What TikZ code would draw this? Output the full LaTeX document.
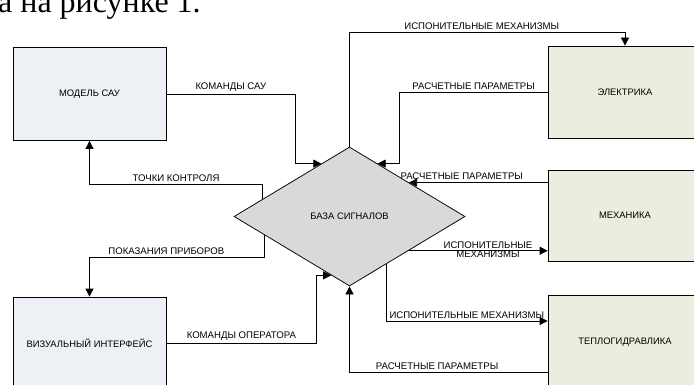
\documentclass[tikz,border=0pt]{standalone}
\usepackage{fontspec}
\setmainfont{Liberation Sans}
\newfontfamily\serifru{Liberation Serif}
\usetikzlibrary{shapes.geometric,arrows.meta,calc}

\definecolor{modfill}{HTML}{EDF0F5}
\definecolor{calcfill}{HTML}{EBEEDE}
\definecolor{basefill}{HTML}{D9D9D9}

\tikzset{
  box/.style={draw, line width=0.75pt, minimum width=153pt, minimum height=93pt,
    font=\fontsize{9.4}{11}\selectfont},
  arr/.style={line width=0.75pt, -{Triangle[length=8pt,width=8pt]}},
  lbl/.style={font=\fontsize{9.6}{11}\selectfont, inner sep=2.2pt}
}

\begin{document}
\begin{tikzpicture}[x=1pt,y=-1pt]
  \useasboundingbox (0,0) rectangle (694,385);
  \clip (0,0) rectangle (694,385);

  \node[anchor=base west, inner sep=0, font=\serifru\fontsize{32}{34}\selectfont]
    (txt) at (-2,13) {а на рисунке 1.};

  \node[box, fill=modfill] (model) at (89.5,94) {МОДЕЛЬ САУ};
  \node[box, fill=modfill, minimum height=92pt] (vis) at (89.5,343) {ВИЗУАЛЬНЫЙ ИНТЕРФЕЙС};
  \node[box, fill=calcfill, minimum width=154pt, minimum height=92pt] (elek) at (625,92) {ЭЛЕКТРИКА};
  \node[box, fill=calcfill, minimum width=154pt, minimum height=91pt] (mech) at (625,215.5) {МЕХАНИКА};
  \node[box, fill=calcfill, minimum width=154pt, minimum height=94pt] (teplo) at (625,342) {ТЕПЛОГИДРАВЛИКА};
  \node[diamond, draw, line width=0.75pt, fill=basefill, inner sep=0,
    minimum width=231pt, minimum height=139pt, font=\fontsize{9.4}{11}\selectfont]
    (baza) at (349.5,216.5) {БАЗА СИГНАЛОВ};

  % points on the edges of the diamond
  \coordinate (pA) at ($(baza.west)!0.757!(baza.north)$);
  \coordinate (pB) at ($(baza.west)!0.25!(baza.north)$);
  \coordinate (pC) at ($(baza.west)!0.263!(baza.south)$);
  \coordinate (pD) at ($(baza.west)!0.842!(baza.south)$);
  \coordinate (pE) at ($(baza.north)!0.243!(baza.east)$);
  \coordinate (pF) at ($(baza.north)!0.514!(baza.east)$);
  \coordinate (pG) at ($(baza.east)!0.49!(baza.south)$);
  \coordinate (pH) at ($(baza.east)!0.684!(baza.south)$);

  \draw[arr] (model.east) -- node[lbl, above] {КОМАНДЫ САУ} ++(129,0) |- (pA);
  \draw[arr] (pB) -- ++(0,-15) -| node[lbl, above, pos=0.25] {ТОЧКИ КОНТРОЛЯ} (model.south);
  \draw[arr] (pC) -- ++(0,22) -| node[lbl, above, pos=0.28] {ПОКАЗАНИЯ ПРИБОРОВ} (vis.north);
  \draw[arr] (vis.east) -- node[lbl, above] {КОМАНДЫ ОПЕРАТОРА} ++(150,0) |- (pD);

  \draw[arr] (baza.north) -- ++(0,-114) -| node[lbl, above, pos=0.24] {ИСПОНИТЕЛЬНЫЕ МЕХАНИЗМЫ} (elek.north);
  \draw[arr] (elek.west) -- node[lbl, above] {РАСЧЕТНЫЕ ПАРАМЕТРЫ} ++(-148,0) |- (pE);
  \draw[arr] (mech.west |- pF) -- node[lbl, above, pos=0.62] {РАСЧЕТНЫЕ ПАРАМЕТРЫ} (pF);
  \draw[arr] (pG) -- (pG -| mech.west);
  \node[lbl, align=center, inner sep=0] (ispm) at (488,249.5) {ИСПОНИТЕЛЬНЫЕ\\[-1.5pt]МЕХАНИЗМЫ};
  \draw[arr] (pH) |- node[lbl, above, pos=0.75] {ИСПОНИТЕЛЬНЫЕ МЕХАНИЗМЫ} ($(teplo.west)+(0,-21)$);
  \draw[arr] ($(teplo.west)+(0,30)$) -| node[lbl, above, pos=0.279] {РАСЧЕТНЫЕ ПАРАМЕТРЫ} (baza.south);
\end{tikzpicture}
\end{document}
